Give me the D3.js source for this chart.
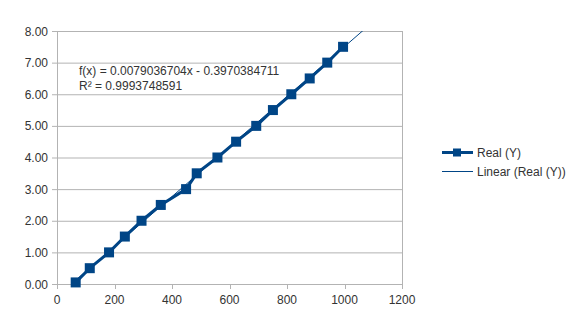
<!DOCTYPE html>
<html>
<head>
<meta charset="utf-8">
<script src="https://cdn.jsdelivr.net/npm/d3@7"></script>
<style>
  body { margin: 0; background: #fff; }
  svg { display: block; font-family: "Liberation Sans", Arial, sans-serif; }
</style>
</head>
<body>
<div id="chart"></div>
<script>
// measured points (X, Real Y)
const xValues = [65, 114, 181, 236, 294, 361, 449, 486, 558, 623, 693, 751, 815, 879, 940, 995];
const yValues = [0.05, 0.5, 1.0, 1.5, 2.0, 2.5, 3.0, 3.5, 4.0, 4.5, 5.0, 5.5, 6.0, 6.5, 7.0, 7.5];
const xTicks = [0, 200, 400, 600, 800, 1000, 1200];
const yTicks = [0, 1, 2, 3, 4, 5, 6, 7, 8];
const slope = 0.0079036704, intercept = -0.3970384711;
const equationLines = ["f(x) = 0.0079036704x - 0.3970384711", "R² = 0.9993748591"];
const legendLabels = ["Real (Y)", "Linear (Real (Y))"];

const W = 573, H = 321;
const blue = "#004586", grid = "#b3b3b3", textCol = "#333";
const plot = { left: 57, right: 402, top: 31, bottom: 284 };

const svg = d3.select("#chart").append("svg").attr("width", W).attr("height", H);

const x = d3.scaleLinear().domain([0, 1200]).range([plot.left, plot.right]);
const y = d3.scaleLinear().domain([0, 8]).range([plot.bottom, plot.top]);

// horizontal gridlines
svg.append("g").selectAll("line").data(yTicks).enter().append("line")
    .attr("x1", plot.left - 5).attr("x2", plot.right)
    .attr("y1", d => y(d) + 0.5).attr("y2", d => y(d) + 0.5)
    .attr("stroke", grid).attr("stroke-width", 1);

// axis line + right border
svg.append("line").attr("x1", plot.left + 0.5).attr("x2", plot.left + 0.5)
    .attr("y1", plot.top).attr("y2", plot.bottom + 5).attr("stroke", grid);
svg.append("line").attr("x1", plot.right + 0.5).attr("x2", plot.right + 0.5)
    .attr("y1", plot.top).attr("y2", plot.bottom + 5).attr("stroke", grid);

// x ticks
svg.append("g").selectAll("line").data(xTicks).enter().append("line")
    .attr("x1", d => Math.round(x(d)) + 0.5).attr("x2", d => Math.round(x(d)) + 0.5)
    .attr("y1", plot.bottom).attr("y2", plot.bottom + 5)
    .attr("stroke", grid);

svg.append("g").selectAll("text").data(xTicks).enter().append("text")
    .attr("x", d => x(d)).attr("y", plot.bottom + 20)
    .attr("text-anchor", "middle").attr("font-size", 12).attr("fill", textCol)
    .text(d => d);

svg.append("g").selectAll("text").data(yTicks).enter().append("text")
    .attr("x", plot.left - 9).attr("y", d => y(d) + 4.5)
    .attr("text-anchor", "end").attr("font-size", 12).attr("fill", textCol)
    .text(d => d.toFixed(2));

// clip for trend line
svg.append("clipPath").attr("id", "plotclip").append("rect")
    .attr("x", plot.left).attr("y", plot.top)
    .attr("width", plot.right - plot.left).attr("height", plot.bottom - plot.top);

// trend line
const tx = [d3.min(xValues), 1200];
svg.append("line").attr("clip-path", "url(#plotclip)")
    .attr("x1", x(tx[0])).attr("y1", y(slope * tx[0] + intercept))
    .attr("x2", x(tx[1])).attr("y2", y(slope * tx[1] + intercept))
    .attr("stroke", blue).attr("stroke-width", 1);

// data line
const pts = xValues.map((v, i) => [v, yValues[i]]);
svg.append("path").datum(pts)
    .attr("d", d3.line().x(d => x(d[0])).y(d => y(d[1])))
    .attr("fill", "none").attr("stroke", blue).attr("stroke-width", 3).attr("stroke-linejoin", "round");

svg.append("g").selectAll("rect").data(pts).enter().append("rect")
    .attr("x", d => x(d[0]) - 5).attr("y", d => y(d[1]) - 5)
    .attr("width", 10).attr("height", 10)
    .attr("fill", blue);

// equation
svg.append("g").selectAll("text").data(equationLines).enter().append("text")
    .attr("x", 79).attr("y", (d, i) => 75 + i * 14.5)
    .attr("font-size", 12).attr("fill", textCol)
    .text(d => d);

// legend
const lg = svg.append("g");
lg.append("line").attr("x1", 442).attr("x2", 473).attr("y1", 152.5).attr("y2", 152.5)
    .attr("stroke", blue).attr("stroke-width", 3);
lg.append("rect").attr("x", 453).attr("y", 148.5).attr("width", 8).attr("height", 8).attr("fill", blue);
lg.append("line").attr("x1", 442).attr("x2", 473).attr("y1", 171.5).attr("y2", 171.5)
    .attr("stroke", blue).attr("stroke-width", 1);
lg.selectAll("text").data(legendLabels).enter().append("text")
    .attr("x", 477).attr("y", (d, i) => 157 + i * 19)
    .attr("font-size", 12).attr("fill", textCol)
    .text(d => d);
</script>
</body>
</html>
